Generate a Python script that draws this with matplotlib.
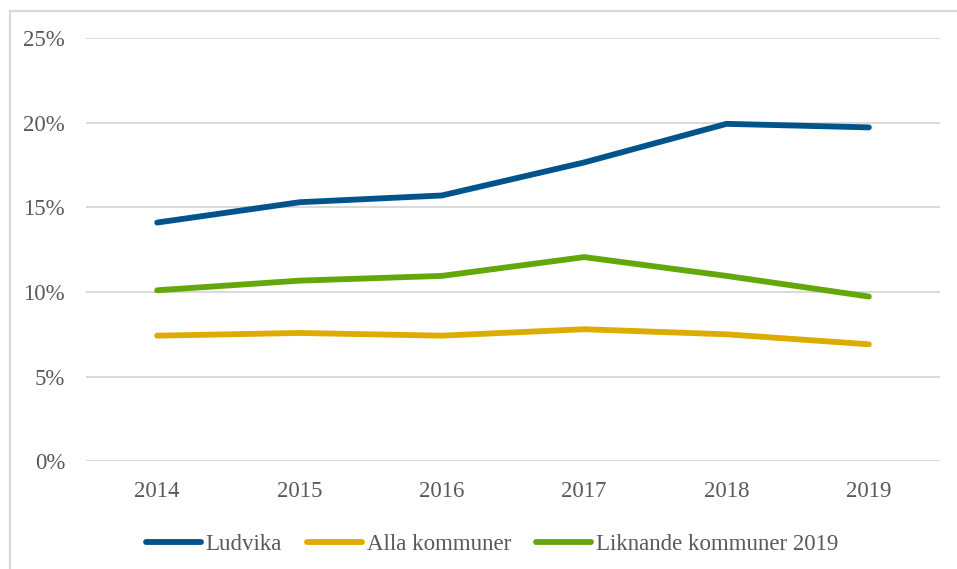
import matplotlib
matplotlib.use("Agg")
import matplotlib.pyplot as plt
from matplotlib.ticker import PercentFormatter
from matplotlib.lines import Line2D

years = ["2014", "2015", "2016", "2017", "2018", "2019"]
ludvika = [0.141, 0.153, 0.157, 0.1765, 0.1993, 0.1972]
alla = [0.0742, 0.0758, 0.0742, 0.078, 0.075, 0.0691]
liknande = [0.101, 0.1067, 0.1095, 0.1206, 0.1095, 0.0973]
labels = ["Ludvika", "Alla kommuner", "Liknande kommuner 2019"]
colors = ["#01538B", "#DEAC00", "#64A70B"]

plt.rcParams['font.family'] = ['Liberation Serif', 'DejaVu Serif']
text_color = "#595959"
fs = 16.5

fig = plt.figure(figsize=(9.57, 5.69), dpi=100)
ax = fig.add_axes([86/957, 1-461.3/569, (940-86)/957, (461.3-38)/569])

x = range(len(years))
for vals, lab, c in zip([ludvika, alla, liknande], labels, colors):
    ax.plot(x, vals, color=c, lw=4.2, solid_capstyle='round', solid_joinstyle='round', label=lab)

ax.set_xlim(-0.5, len(years) - 0.5)
ax.set_ylim(0, 0.25)
ax.set_yticks([0, 0.05, 0.10, 0.15, 0.20, 0.25])
ax.yaxis.set_major_formatter(PercentFormatter(1.0, decimals=0))
ax.set_xticks(list(x))
ax.set_xticklabels(years)
ax.grid(axis='y', color="#D9D9D9", lw=1.4)
ax.set_axisbelow(True)
for s in ax.spines.values():
    s.set_visible(False)
ax.tick_params(axis='both', length=0, labelsize=fs, labelcolor=text_color)
ax.tick_params(axis='y', pad=15)
ax.tick_params(axis='x', pad=14)

fig.legend(loc='center', bbox_to_anchor=(492/957, 1-544/569), ncol=3, frameon=False,
           fontsize=fs, labelcolor=text_color, handlelength=2.4, handletextpad=0.2,
           columnspacing=1.1)

# outer border (partially visible)
bx, by = 10/957, 1-11/569
fig.add_artist(Line2D([bx, bx], [0, by], color="#D9D9D9", lw=1.6, transform=fig.transFigure))
fig.add_artist(Line2D([bx, 1], [by, by], color="#D9D9D9", lw=1.6, transform=fig.transFigure))

fig.savefig("out.png", dpi=100)
